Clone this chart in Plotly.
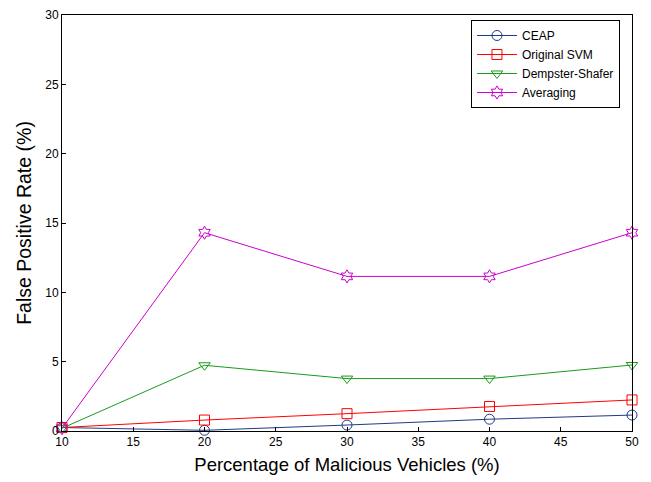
import plotly.graph_objects as go

x_vals = [10, 20, 30, 40, 50]
ceap = [0.25, 0.05, 0.43, 0.85, 1.15]
original_svm = [0.25, 0.79, 1.25, 1.77, 2.24]
dempster_shafer = [0.2, 4.74, 3.78, 3.78, 4.76]
averaging = [0.2, 14.3, 11.15, 11.15, 14.3]

series = [
    ("CEAP", ceap, "#1f3a85", "circle-open"),
    ("Original SVM", original_svm, "#ff0000", "square-open"),
    ("Dempster-Shafer", dempster_shafer, "#1a9a1a", "triangle-down-open"),
    ("Averaging", averaging, "#cc00cc", "hexagram-open"),
]

fig = go.Figure()
for name, ys, color, sym in series:
    fig.add_trace(go.Scatter(
        x=x_vals, y=ys, name=name, mode="lines+markers",
        line=dict(color=color, width=1),
        marker=dict(symbol=sym, size=10, color=color, line=dict(color=color, width=1)),
    ))

font_family = "Liberation Sans, Arial, Helvetica, sans-serif"
# page body has an 8px default margin, so the figure is sized to fit the window
fig.update_layout(
    width=643, height=474,
    margin=dict(l=54, r=19, t=7, b=51, autoexpand=False),
    paper_bgcolor="white", plot_bgcolor="white",
    font=dict(family=font_family, color="black", size=12),
    showlegend=True,
    legend=dict(
        x=0.7175, y=0.988, xanchor="left", yanchor="top",
        bgcolor="white", bordercolor="black", borderwidth=1,
        font=dict(size=12, family=font_family),
        tracegroupgap=0, itemwidth=40,
    ),
    xaxis=dict(
        range=[10, 50], tickvals=[10, 15, 20, 25, 30, 35, 40, 45, 50],
        showgrid=False, zeroline=False, showline=True, mirror=True, automargin=False,
        linecolor="black", linewidth=1, ticks="inside", ticklen=4, tickcolor="black",
        tickfont=dict(size=12),
        title=dict(text="Percentage of Malicious Vehicles (%)", font=dict(size=18.5), standoff=9),
    ),
    yaxis=dict(
        range=[0, 30], tickvals=[0, 5, 10, 15, 20, 25, 30],
        showgrid=False, zeroline=False, showline=True, mirror=True, automargin=False,
        linecolor="black", linewidth=1, ticks="inside", ticklen=4, tickcolor="black",
        tickfont=dict(size=12),
        title=dict(text="False Positive Rate (%)", font=dict(size=19.5), standoff=8),
    ),
)
fig.update_traces(cliponaxis=False)
fig.write_html("out.html")
